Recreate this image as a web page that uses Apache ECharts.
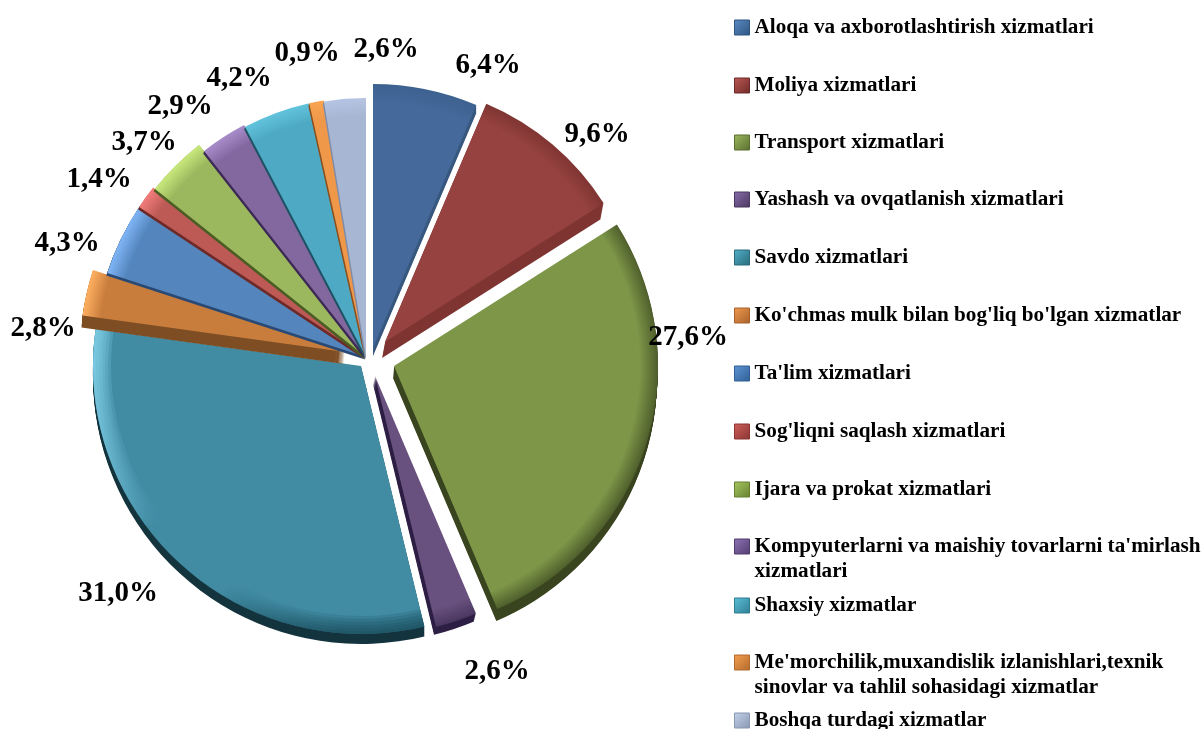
<!DOCTYPE html>
<html>
<head>
<meta charset="utf-8">
<style>
html, body { margin: 0; padding: 0; background: #fff; }
#main { width: 1204px; height: 729px; }
</style>
<script src="https://cdn.jsdelivr.net/npm/echarts@6/dist/echarts.min.js"></script>
</head>
<body>
<div id="main"></div>
<script>
// data
const categories = [
    'Aloqa va axborotlashtirish xizmatlari',
    'Moliya xizmatlari',
    'Transport xizmatlari',
    'Yashash va ovqatlanish xizmatlari',
    'Savdo xizmatlari',
    "Ko'chmas mulk bilan bog'liq bo'lgan xizmatlar",
    "Ta'lim xizmatlari",
    "Sog'liqni saqlash xizmatlari",
    'Ijara va prokat xizmatlari',
    "Kompyuterlarni va maishiy tovarlarni ta'mirlash\nxizmatlari",
    'Shaxsiy xizmatlar',
    "Me'morchilik,muxandislik izlanishlari,texnik\nsinovlar va tahlil sohasidagi xizmatlar",
    'Boshqa turdagi xizmatlar'
]
const shares = [6.4, 9.6, 27.6, 2.6, 31.0, 2.8, 4.3, 1.4, 3.7, 2.9, 4.2, 0.9, 2.6]

// styling per slice
const baseColors = ['#44699a', '#964240', '#7d9648', '#69517f', '#418ca3', '#c87d3d', '#5485bd', '#bd5a56', '#9cb85e', '#8368a0', '#4eaac4', '#f0984a', '#a7b7d3']
const rimColors = ['#3d6290', '#7f3532', '#4f5f2c', '#4a375f', '#418ca3', '#ffb060', '#80b6f7', '#f27d7a', '#c9e97d', '#a88cca', '#62c3dc', '#f8a450', '#b4c4e2']
const sideColors = ['#38587f', '#7f3532', '#3a4520', '#2e1f45', '#14343e', '#7f4e24', '#2a4a75', '#6e2a28', '#4b5d24', '#3c2a55', '#1f5264', '#8a5020', '#7f8ba6']
const legendLight = ['#5a8ac4', '#bd5a56', '#9cb85e', '#8a6dac', '#52b0c8', '#f09a50', '#5f95d4', '#d0605c', '#a8c862', '#9074b4', '#5cc0da', '#f8a050', '#c4d2ea']
const legendBorders = ['#2f5580', '#6e2a28', '#5a6e30', '#4a375f', '#2a6a7c', '#a8612a', '#2f5f95', '#8a3532', '#64802f', '#513c70', '#2f7d92', '#b06a2c', '#8896b0']

// layout per slice: tip offset from the pie centre, radius, side wall offset
const pieCenter = [361, 366]
const tipOffsets = [[12, -18], [24, -24], [33, 0], [14, 10], [0, 0], [-16, -14], [5, -9], [5, -9], [5, -9], [5, -9], [5, -9], [5, -9], [5, -9]]
const radii = [264, 259, 264, 258, 268, 265, 272, 272, 270, 262, 260, 260, 259]
const sideOffsets = [[0, 8], [-3, 16], [-1, 12], [-2, 8], [0, 10], [-1, 12], [-1, 2.5], [-1, 2.5], [-1, 2.5], [-1, 2.5], [-1, 2.5], [-1, 2.5], [-1, 2.5]]
const labelCenters = [[488, 66], [597, 135], [688, 338], [497, 672], [118, 594], [43, 329], [67, 244], [99, 180], [144, 143], [180, 107], [239, 79], [307, 54], [386, 50]]
const legendRows = [27, 85, 142, 199, 257, 315, 373, 431, 489, 546, 605, 662, 720]
const drawOrder = [4, 5, 6, 7, 8, 9, 10, 11, 12, 0, 1, 2, 3]

const chart = echarts.init(document.getElementById('main'))

const startAngleOf = (i) => {
    let cum = 0
    for (let k = 0; k < i; k++) cum += shares[k]
    return 90 - cum * 3.6
}

const slicePie = (i, opts) => {
    return {
        type: 'pie',
        silent: true,
        animation: false,
        clockwise: true,
        avoidLabelOverlap: false,
        startAngle: startAngleOf(i),
        center: opts.center,
        radius: opts.radius,
        label: { show: false },
        labelLine: { show: false },
        emphasis: { disabled: true },
        labelLayout: opts.labelLayout,
        data: [
            { value: shares[i], name: opts.name, itemStyle: { color: opts.color }, label: opts.label },
            { value: 100 - shares[i], name: opts.name + ' (rest)', itemStyle: { color: 'transparent' } }
        ]
    }
}

const series = []
drawOrder.forEach((i) => {
    const cx = pieCenter[0] + tipOffsets[i][0]
    const cy = pieCenter[1] + tipOffsets[i][1]
    const r = radii[i]

    // side wall, swept down in small steps so the corners stay clean
    const steps = Math.ceil(Math.abs(sideOffsets[i][1]))
    for (let step = steps; step >= 1; step--) {
        series.push(slicePie(i, {
            name: 'side ' + i + '-' + step,
            center: [cx + sideOffsets[i][0] * step / steps, cy + sideOffsets[i][1] * step / steps],
            radius: [0, r],
            color: sideColors[i]
        }))
    }

    // top face
    series.push(slicePie(i, {
        name: categories[i],
        center: [cx, cy],
        radius: [0, r],
        color: {
            type: 'radial', x: cx, y: cy, r: r, global: true,
            colorStops: [
                { offset: 0, color: baseColors[i] },
                { offset: 0.93, color: baseColors[i] },
                { offset: 1, color: rimColors[i] }
            ]
        },
        label: {
            show: true,
            position: 'outside',
            formatter: shares[i].toFixed(1).replace('.', ',') + '%',
            fontFamily: '"Liberation Serif"',
            fontWeight: 'bold',
            fontSize: 29,
            color: '#000',
            align: 'center',
            verticalAlign: 'middle'
        },
        labelLayout: (params) => {
            if (params.dataIndex !== 0) return {}
            return { x: labelCenters[i][0], y: labelCenters[i][1], align: 'center', verticalAlign: 'middle' }
        }
    }))

    // the big teal slice: light rim on the left, dark rim at the bottom
    if (i === 4) {
        [18, 15, 12, 9, 6, 3].forEach((w) => {
            series.push(slicePie(i, {
                name: 'rim ' + w,
                center: [cx, cy],
                radius: [r - w, r],
                color: {
                    type: 'linear', x: 100, y: 360, x2: 330, y2: 640, global: true,
                    colorStops: [
                        { offset: 0, color: 'rgba(135,215,240,0.22)' },
                        { offset: 0.45, color: 'rgba(135,215,240,0)' },
                        { offset: 0.7, color: 'rgba(15,60,75,0)' },
                        { offset: 1, color: 'rgba(15,60,75,0.16)' }
                    ]
                }
            }))
        })
    }
})

const legends = categories.map((name, i) => {
    const twoLines = name.indexOf('\n') >= 0
    return {
        left: 734,
        top: legendRows[i] - (twoLines ? 37 : 12),
        padding: 0,
        orient: 'vertical',
        itemWidth: 15,
        itemHeight: 15,
        selectedMode: false,
        icon: 'rect',
        // a blank first line keeps the icon level with the first line of a two-line name
        formatter: (n) => (n.indexOf('\n') >= 0 ? '\n' + n : n),
        textStyle: {
            fontFamily: '"Liberation Serif"',
            fontWeight: 'bold',
            fontSize: 21.2,
            lineHeight: 25,
            color: '#000'
        },
        data: [{
            name: name,
            itemStyle: {
                color: {
                    type: 'linear', x: 0, y: 0, x2: 1, y2: 1,
                    colorStops: [
                        { offset: 0, color: legendLight[i] },
                        { offset: 1, color: legendBorders[i] }
                    ]
                },
                borderColor: legendBorders[i],
                borderWidth: 1
            }
        }]
    }
})

chart.setOption({
    animation: false,
    backgroundColor: '#fff',
    tooltip: { show: false },
    legend: legends,
    series: series
})
</script>
</body>
</html>
